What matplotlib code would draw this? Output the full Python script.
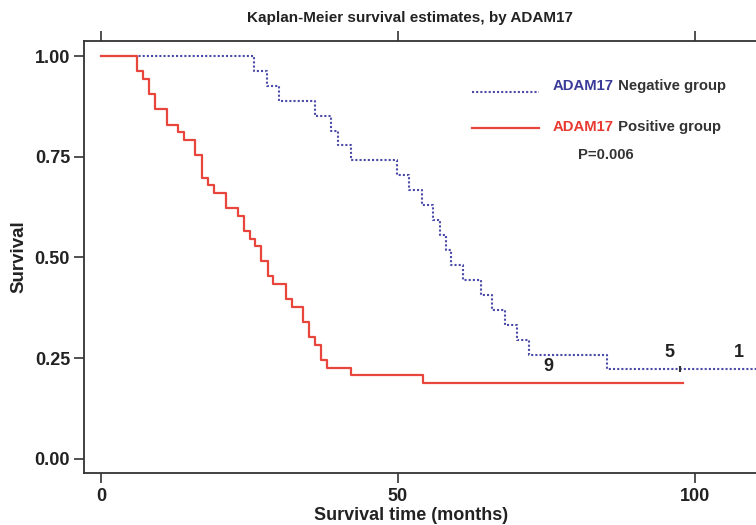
import numpy as np
import matplotlib
matplotlib.use("Agg")
import matplotlib.pyplot as plt

plt.rcParams['font.family'] = ['Liberation Sans', 'DejaVu Sans']
plt.rcParams['font.weight'] = 'bold'
plt.rcParams['axes.labelweight'] = 'bold'

# temps (mois) des sauts et survie estimee juste apres
t_neg = [0, 25.8, 27.9, 30.0, 36.1, 38.8, 39.9, 42.1, 49.8, 51.9, 54.0, 55.9,
         57.1, 58.1, 58.9, 61.0, 64.0, 65.9, 68.0, 70.0, 72.1, 85.2, 112.0]
s_neg = [1.000, 0.963, 0.926, 0.889, 0.852, 0.815, 0.778, 0.741, 0.704, 0.667,
         0.630, 0.593, 0.556, 0.519, 0.481, 0.444, 0.407, 0.370, 0.333, 0.296,
         0.259, 0.222, 0.222]
t_pos = [0, 6.0, 7.1, 8.1, 9.1, 11.1, 13.0, 14.0, 15.8, 17.0, 18.1, 19.1, 21.0,
         23.1, 24.0, 25.1, 25.9, 26.9, 28.1, 29.0, 31.1, 32.2, 34.1, 35.0, 36.0,
         37.0, 38.0, 42.1, 54.2, 98.0]
s_pos = [1.000, 0.962, 0.943, 0.906, 0.868, 0.830, 0.811, 0.792, 0.755, 0.698,
         0.679, 0.660, 0.623, 0.604, 0.566, 0.547, 0.528, 0.491, 0.453, 0.434,
         0.396, 0.377, 0.340, 0.302, 0.283, 0.245, 0.226, 0.208, 0.189, 0.189]
censor_t = [97.5]
censor_s = [0.222]

# chiffres ecrits sur le graphe
nb_labels = ['9', '5', '1']
nb_x = [75.3, 95.7, 107.4]
nb_y = [0.229, 0.264, 0.264]

blue = '#4a4aa8'
red = '#e8453c'
grey = '#333333'

fig = plt.figure(figsize=(7.56, 5.25), dpi=100)
ax = fig.add_axes([84 / 756, 1 - 473 / 525, 1 - 84 / 756, (473 - 40.7) / 525])

ax.step(t_neg, s_neg, where='post', color=blue, lw=1.5, ls=(0, (1, 1)))
ax.step(t_pos, s_pos, where='post', color=red, lw=1.6)
ax.plot(censor_t, censor_s, ls='none', marker='|', ms=5, mew=1.5, color=grey)

for lab, x, y in zip(nb_labels, nb_x, nb_y):
    ax.text(x, y, lab, ha='center', va='center', fontsize=13, color='#222222')

# legende faite a la main
ax.plot([62.4, 73.8], [0.911, 0.911], color=blue, lw=1.5, ls=(0, (1, 1)))
ax.plot([62.4, 73.8], [0.821, 0.821], color=red, lw=1.6)
t1 = ax.text(76.1, 0.926, 'ADAM17', color='#3a3a98', fontsize=10.7, va='center')
ax.annotate(' Negative group', xycoords=t1, xy=(1, 0.5), va='center',
            color=grey, fontsize=10.7)
t2 = ax.text(76.1, 0.825, 'ADAM17', color='#e83a30', fontsize=10.7, va='center')
ax.annotate(' Positive group', xycoords=t2, xy=(1, 0.5), va='center',
            color=grey, fontsize=10.7)
ax.text(80.3, 0.754, 'P=0.006', color=grey, fontsize=10.7, va='center')

ax.set_xlim(-2.86, 110.3)
ax.set_ylim(-0.035, 1.038)
ax.set_xticks([0, 50, 100])
ax.set_yticks([0, 0.25, 0.5, 0.75, 1.0])
ax.set_yticklabels(['0.00', '0.25', '0.50', '0.75', '1.00'])
ax.tick_params(axis='both', labelsize=13, colors=grey, width=1.2, length=7,
               labelcolor='#222222')
ax.tick_params(axis='x', top=True, direction='out', pad=4)
ax.tick_params(axis='y', pad=3)

for sp in ['left', 'bottom', 'top']:
    ax.spines[sp].set_color(grey)
    ax.spines[sp].set_linewidth(1.3)
ax.spines['right'].set_visible(False)

ax.set_xlabel('Survival time (months)', fontsize=13, color='#222222',
              fontweight='bold', va='center')
ax.xaxis.set_label_coords((411 - 84) / 672, -(516 - 473) / 432.3)
ax.set_ylabel('Survival', fontsize=13.5, color='#222222', fontweight='bold',
              va='center')
ax.yaxis.set_label_coords(-(84 - 19) / 672, 0.5)
fig.text(410 / 756, 1 - 18 / 525, 'Kaplan-Meier survival estimates, by ADAM17',
         ha='center', va='center', fontsize=11, color='#222222')

fig.savefig('out.png', dpi=100)
